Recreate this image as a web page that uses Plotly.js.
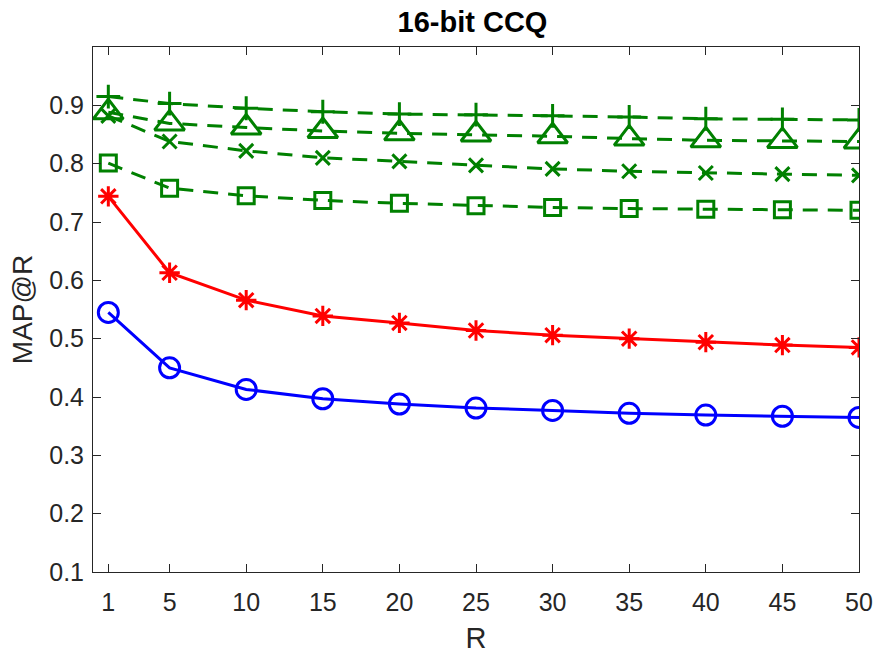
<!DOCTYPE html>
<html>
<head>
<meta charset="utf-8">
<script src="https://cdn.plot.ly/plotly-3.0.1.min.js"></script>
<style>
  html, body { margin: 0; padding: 0; background: #fff; }
  #chart { width: 875px; height: 657px; }
</style>
</head>
<body>
<div id="chart"></div>
<script>
// Retrieval depth R
const R = [1, 5, 10, 15, 20, 25, 30, 35, 40, 45, 50];

// MAP@R for each method
const mapCircle   = [0.545, 0.450, 0.413, 0.397, 0.388, 0.381, 0.377, 0.372, 0.369, 0.367, 0.365];
const mapStar     = [0.744, 0.613, 0.566, 0.539, 0.527, 0.514, 0.506, 0.500, 0.494, 0.489, 0.485];
const mapSquare   = [0.801, 0.758, 0.745, 0.737, 0.732, 0.728, 0.725, 0.723, 0.722, 0.721, 0.720];
const mapX        = [0.882, 0.838, 0.822, 0.810, 0.804, 0.797, 0.791, 0.787, 0.784, 0.782, 0.780];
const mapTriangle = [0.888, 0.869, 0.862, 0.856, 0.852, 0.850, 0.847, 0.843, 0.840, 0.839, 0.838];
const mapPlus     = [0.915, 0.903, 0.895, 0.889, 0.885, 0.884, 0.882, 0.880, 0.877, 0.876, 0.875];

const xTicks = [1, 5, 10, 15, 20, 25, 30, 35, 40, 45, 50];
const yTicks = [0.1, 0.2, 0.3, 0.4, 0.5, 0.6, 0.7, 0.8, 0.9];

const GREEN = '#008000';
const axisColor = '#262626';
const FONT = 'Liberation Sans, Arial, Helvetica, sans-serif';

function series(y, color, symbol, size, dash) {
  return {
    x: R, y: y, type: 'scatter', mode: 'lines+markers',
    line: { color: color, width: 3, dash: dash || 'solid' },
    marker: { symbol: symbol, size: size, color: color,
              line: { color: color, width: 3 } },
    hoverinfo: 'x+y'
  };
}

const DASH = '15px,10px';
const traces = [
  series(mapCircle, '#0000ff', 'circle-open', 20),
  series(mapStar, '#ff0000', 'asterisk-open', 17),
  series(mapSquare, GREEN, 'square-open', 16, DASH),
  series(mapX, GREEN, 'x-thin-open', 14, DASH),
  series(mapTriangle, GREEN, 'triangle-up-open', 26, DASH),
  series(mapPlus, GREEN, 'cross-thin-open', 17, DASH)
];

const tickFont = { family: FONT, size: 25, color: axisColor };

const layout = {
  width: 875, height: 657,
  margin: { l: 93, r: 16, t: 47, b: 85 },
  paper_bgcolor: '#fff', plot_bgcolor: '#fff',
  showlegend: false,
  title: {
    text: '<b>16-bit CCQ</b>',
    font: { family: FONT, size: 29, color: '#000' },
    x: 0.54, xanchor: 'center', y: 0.966, yanchor: 'middle'
  },
  xaxis: {
    range: [0, 50], tickvals: xTicks, ticktext: xTicks.map(String),
    ticks: 'inside', ticklen: 8, tickwidth: 1, tickcolor: axisColor,
    showline: true, linecolor: axisColor, linewidth: 1, mirror: 'ticks',
    showgrid: false, zeroline: false, tickfont: tickFont,
    ticklabelstandoff: 8,
    title: { text: 'R', font: { family: FONT, size: 29, color: axisColor }, standoff: 12 }
  },
  yaxis: {
    range: [0.1, 1.0], tickvals: yTicks, ticktext: yTicks.map(v => v.toFixed(1)),
    ticks: 'inside', ticklen: 8, tickwidth: 1, tickcolor: axisColor,
    showline: true, linecolor: axisColor, linewidth: 1, mirror: 'ticks',
    showgrid: false, zeroline: false, tickfont: tickFont,
    ticklabelstandoff: 3,
    title: { text: 'MAP@R', font: { family: FONT, size: 28, color: axisColor }, standoff: 8 }
  }
};

Plotly.newPlot('chart', traces, layout, { displayModeBar: false, staticPlot: true });
</script>
</body>
</html>
